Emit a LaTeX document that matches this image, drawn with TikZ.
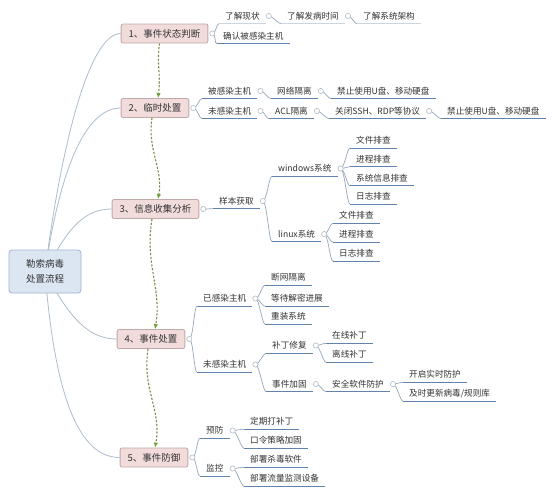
\documentclass[tikz,border=0pt]{standalone}
\usepackage{fontspec}
\setmainfont{Noto Sans CJK SC}
\usetikzlibrary{calc,arrows.meta,backgrounds}
\definecolor{txt}{HTML}{333333}
\definecolor{rootfill}{HTML}{DCE6F2}
\definecolor{rootdraw}{HTML}{9FB4CE}
\definecolor{mainfill}{HTML}{F2DCDB}
\definecolor{maindraw}{HTML}{BFA9A9}
\definecolor{trunk}{HTML}{AEBDCD}
\definecolor{ulc}{HTML}{6283AD}
\definecolor{ullight}{HTML}{CDD6E0}
\definecolor{subc}{HTML}{97A6B8}
\definecolor{circc}{HTML}{B3BBC5}
\definecolor{flowc}{HTML}{85884A}
\definecolor{arrowc}{HTML}{6E9F3A}
\newcommand\mmItem[5][ulline]{%
  \node[itm] (#2) at (#3,#4) {#5};
  \draw[#1] (#2.south west) -- (#2.south east);
  \coordinate (#2-k) at ($(#2.east)+(3,0)$);}
\newcommand\mmBr[2]{\draw[subline] (#1) .. controls ($(#1)+(4,0)$) and ($(#2)+(-3,0)$) .. (#2);}
\begin{document}
\begin{tikzpicture}[x=1pt,y=-1pt,
  rootbox/.style={draw=rootdraw, fill=rootfill, rounded corners=3pt, line width=0.8pt, minimum width=72pt, minimum height=43pt, align=center, text=txt, font=\fontsize{9.5}{15}\selectfont},
  mainbox/.style={draw=maindraw, fill=mainfill, rounded corners=2pt, line width=0.8pt, minimum height=19pt, inner xsep=7.5pt, inner ysep=0pt, text=txt, font=\fontsize{9.5}{11}\selectfont},
  itm/.style={anchor=west, inner xsep=6pt, inner ysep=0pt, minimum height=15pt, text=txt, font=\fontsize{8.6}{10}\selectfont},
  ulline/.style={draw=ulc, line width=1.4pt},
  ullite/.style={draw=ullight, line width=1.2pt},
  trunkline/.style={draw=trunk, line width=0.8pt},
  subline/.style={draw=subc, line width=0.7pt},
  knob/.style={draw=circc, fill=white, line width=0.6pt},
  flow/.style={draw=flowc, line width=1.1pt, dash pattern=on 2.2pt off 1.6pt, -{Latex[length=5pt,width=4.5pt,color=arrowc]}}
]
\useasboundingbox (0,0) rectangle (553,496);
% root and main topics
\node[rootbox] (root) at (45,271.5) {勒索病毒\\处置流程};
\node[mainbox] (n1) at (164.5,33.5) {1、事件状态判断};
\node[mainbox] (n2) at (155,108) {2、临时处置};
\node[mainbox] (n3) at (155.5,209) {3、信息收集分析};
\node[mainbox] (n4) at (151,339) {4、事件处置};
\node[mainbox] (n5) at (154,457.5) {5、事件防御};
\foreach \m in {n1,n2,n3,n4,n5} \coordinate (\m-k) at ($(\m.east)+(4,0)$);
\begin{scope}[on background layer]
  \fill[white] (0,0) rectangle (553,496);
  \draw[trunkline] (root.center) .. controls (62,140) and (90,33.5) .. (n1.west);
  \draw[trunkline] (root.center) .. controls (60,170) and (85,108) .. (n2.west);
  \draw[trunkline] (root.center) .. controls (65,235) and (80,209) .. (n3.west);
  \draw[trunkline] (root.center) .. controls (70,320) and (90,339) .. (n4.west);
  \draw[trunkline] (root.center) .. controls (55,400) and (80,457.5) .. (n5.west);
\end{scope}
% section 1
\mmItem[ullite]{a1}{219}{16}{了解现状}
\mmItem[ullite]{a2}{281}{16}{了解发病时间}
\mmItem[ullite]{a3}{357}{16}{了解系统架构}
\mmItem{a4}{217}{36}{确认被感染主机}
% section 2
\mmItem{b11}{202}{91}{被感染主机}
\mmItem{b12}{271}{91}{网络隔离}
\mmItem{b13}{331}{91}{禁止使用U盘、移动硬盘}
\mmItem{b21}{202}{111}{未感染主机}
\mmItem{b22}{269}{111}{ACL隔离}
\mmItem{b23}{329}{111}{关闭SSH、RDP等协议}
\mmItem{b24}{441}{111}{禁止使用U盘、移动硬盘}
% section 3
\mmItem{c0}{213}{201}{样本获取}
\mmItem{cw}{272}{168.5}{windows系统}
\mmItem{cw1}{350}{140.5}{文件排查}
\mmItem{cw2}{350}{159}{进程排查}
\mmItem{cw3}{350}{178}{系统信息排查}
\mmItem{cw4}{350}{196.5}{日志排查}
\mmItem{cl}{272}{234}{linux系统}
\mmItem{cl1}{333}{215.5}{文件排查}
\mmItem{cl2}{333}{234.5}{进程排查}
\mmItem{cl3}{333}{253.5}{日志排查}
% section 4
\mmItem{d1}{197}{298.5}{已感染主机}
\mmItem{d11}{265}{277.5}{断网隔离}
\mmItem{d12}{265}{298.5}{等待解密进展}
\mmItem{d13}{265}{316.5}{重装系统}
\mmItem{d2}{197}{364.5}{未感染主机}
\mmItem{d21}{266}{345.5}{补丁修复}
\mmItem{d211}{326}{335.5}{在线补丁}
\mmItem{d212}{326}{354.5}{离线补丁}
\mmItem{d22}{266}{384}{事件加固}
\mmItem{d221}{326}{384}{安全软件防护}
\mmItem{d2211}{403}{374.5}{开启实时防护}
\mmItem{d2212}{403}{393.5}{及时更新病毒/规则库}
% section 5
\mmItem{e1}{200}{430.5}{预防}
\mmItem{e11}{244}{421.5}{定期打补丁}
\mmItem{e12}{244}{440.5}{口令策略加固}
\mmItem{e2}{200}{468.5}{监控}
\mmItem{e21}{244}{459.5}{部署杀毒软件}
\mmItem{e22}{244}{478.5}{部署流量监测设备}
% brackets
\foreach \a/\b in {n1/a1,n1/a4,a1/a2,a2/a3,
  n2/b11,n2/b21,b11/b12,b12/b13,b21/b22,b22/b23,b23/b24,
  n3/c0,c0/cw,c0/cl,cw/cw1,cw/cw2,cw/cw3,cw/cw4,cl/cl1,cl/cl2,cl/cl3,
  n4/d1,n4/d2,d1/d11,d1/d12,d1/d13,d2/d21,d2/d22,d21/d211,d21/d212,d22/d221,d221/d2211,d221/d2212,
  n5/e1,n5/e2,e1/e11,e1/e12,e2/e21,e2/e22}
  {\mmBr{\a-k}{\b.south west}}
% knobs
\foreach \k in {n1,n2,n3,n4,n5,a1,a2,b11,b12,b21,b22,b23,c0,cw,cl,d1,d2,d21,d22,d221,e1,e2}
  {\draw[knob] (\k-k) circle[radius=2.6pt];}
% flow arrows
\draw[flow] ($(n1.south)+(-5,0)$) .. controls ($(n1.south)+(-8,22)$) and ($(n2.north)+(6,-25)$) .. ($(n2.north)+(3,0)$);
\draw[flow] ($(n2.south)+(-3,0)$) .. controls ($(n2.south)+(-8,32)$) and ($(n3.north)+(8,-30)$) .. ($(n3.north)+(2.5,0)$);
\draw[flow] ($(n3.south)+(-3.5,0)$) .. controls ($(n3.south)+(-11,45)$) and ($(n4.north)+(11,-40)$) .. ($(n4.north)+(4,0)$);
\draw[flow] ($(n4.south)+(-3,0)$) .. controls ($(n4.south)+(-9,42)$) and ($(n5.north)+(8,-38)$) .. ($(n5.north)+(1,0)$);
\end{tikzpicture}
\end{document}
